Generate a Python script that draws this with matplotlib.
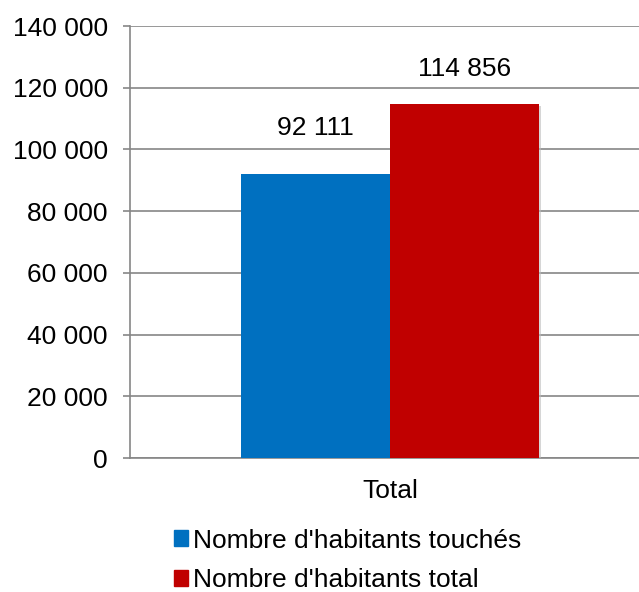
import numpy as np
import matplotlib.pyplot as plt
from matplotlib.patches import Patch
import matplotlib.patheffects as pe

plt.rcParams['font.family'] = ['Liberation Sans', 'DejaVu Sans']

categories = ["Total"]
series_names = ["Nombre d'habitants touchés", "Nombre d'habitants total"]
touches = [92111]
total = [114856]
colors = ['#0070C0', '#C00000']
yticks = [0, 20000, 40000, 60000, 80000, 100000, 120000, 140000]


def fmt(v):
    return f"{v:,.0f}".replace(",", " ")


fig = plt.figure(figsize=(6.39, 5.92), dpi=100)
ax = fig.add_axes([130 / 639, 134 / 592, 509 / 639, 432 / 592])

x = np.arange(len(categories))
w = 0.2865
shadow = [pe.SimplePatchShadow(offset=(1.5, -1.5), shadow_rgbFace='#bbbbbb', alpha=0.6), pe.Normal()]
b1 = ax.bar(x - w / 2, touches, w, color=colors[0], zorder=3, path_effects=shadow)
b2 = ax.bar(x + w / 2, total, w, color=colors[1], zorder=3, path_effects=shadow)

# label gap above each bar (points), as placed in the original
for bars, vals, gap in [(b1, touches, 33), (b2, total, 25)]:
    for r, v in zip(bars, vals):
        ax.annotate(fmt(v), (r.get_x() + r.get_width() / 2, v),
                    xytext=(0, gap), textcoords='offset points',
                    ha='center', va='center', fontsize=19)

ax.set_xlim(-0.5, 0.5 * 249 / 260)
ax.set_ylim(0, 140000)
ax.set_yticks(yticks)
ax.set_yticklabels([fmt(t) for t in yticks], fontsize=19)
ax.set_xticks(x)
ax.set_xticklabels(categories, fontsize=19)
ax.tick_params(axis='x', length=0, pad=15)
ax.tick_params(axis='y', length=5, width=1.2, color='#868686', pad=11)
ax.yaxis.grid(True, color='#868686', linewidth=1.2, zorder=0)
for s in ['top', 'right']:
    ax.spines[s].set_visible(False)
ax.spines['left'].set_color('#868686')
ax.spines['left'].set_linewidth(1.2)
ax.spines['bottom'].set_color('#868686')
ax.spines['bottom'].set_linewidth(1.2)

handles = [Patch(color=c) for c in colors]
fig.legend(handles, series_names, loc='upper left', bbox_to_anchor=(163 / 639, 1 - 518 / 592),
           frameon=False, fontsize=19, handlelength=0.55, handleheight=0.55,
           handletextpad=0.2, labelspacing=0.6, borderaxespad=0)

fig.savefig('out.png', dpi=100)
